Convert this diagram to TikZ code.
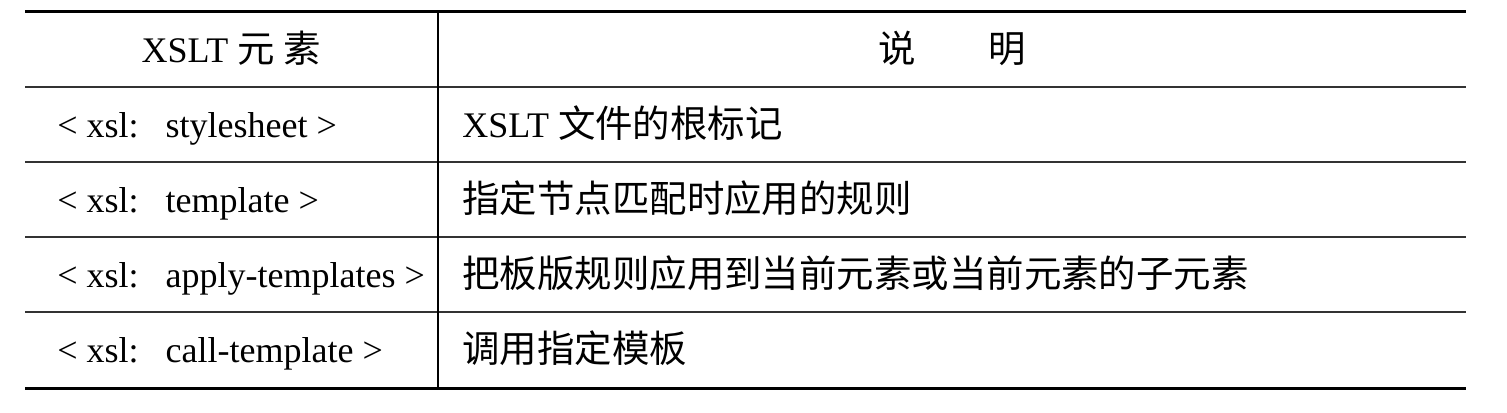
\documentclass[tikz,border=0pt]{standalone}
\usepackage{fontspec}
\setmainfont{Liberation Serif}
\newfontfamily\cjk{Noto Sans CJK SC}[Scale=1.04]
\newcommand{\xsltag}[1]{< xsl:\hspace{0.75em}#1 >}
\begin{document}
\begin{tikzpicture}[x=0.5pt,y=-0.5pt,
        thickrule/.style={line width=1.5pt},
        thinrule/.style={line width=0.8pt,black!80},
        cell/.style={anchor = base west,inner sep=0pt,font=\fontsize{18}{22}\selectfont},
        headcell/.style={anchor = base,inner sep=0pt,font=\fontsize{18}{22}\selectfont}]
        \useasboundingbox (0,0) rectangle (1507,412);

        \draw[thickrule] (25,11) -- (1466,11);
        \draw[thinrule] (25,87) -- (1466,87);
        \draw[thinrule] (25,162) -- (1466,162);
        \draw[thinrule] (25,237) -- (1466,237);
        \draw[thinrule] (25,312) -- (1466,312);
        \draw[thickrule] (25,388) -- (1466,388);

        \draw[line width=0.65pt] (438,11) -- (438,388);

        \node[headcell] (headElem) at (231,62) {XSLT {\cjk 元 素}};
        \node[headcell] (headDesc) at (952,62) {{\cjk 说}\hspace{2em}{\cjk 明}};

        \node[cell] (elemSheet) at (57,137) {\xsltag{stylesheet}};
        \node[cell] (descSheet) at (462,137) {XSLT {\cjk 文件的根标记}};

        \node[cell] (elemTempl) at (57,212) {\xsltag{template}};
        \node[cell] (descTempl) at (462,212) {{\cjk 指定节点匹配时应用的规则}};

        \node[cell] (elemApply) at (57,287) {\xsltag{apply-templates}};
        \node[cell] (descApply) at (462,287) {{\cjk 把板版规则应用到当前元素或当前元素的子元素}};

        \node[cell] (elemCall) at (57,362) {\xsltag{call-template}};
        \node[cell] (descCall) at (462,362) {{\cjk 调用指定模板}};
    \end{tikzpicture}
\end{document}
